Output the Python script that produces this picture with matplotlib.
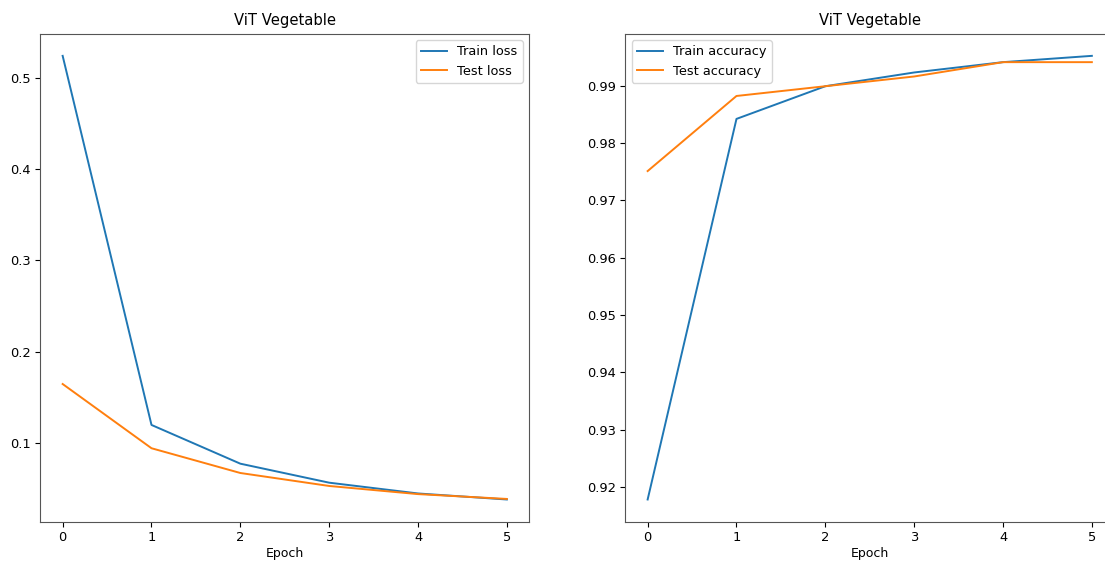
import matplotlib
matplotlib.use("Agg")
import matplotlib.pyplot as plt

epochs = [0, 1, 2, 3, 4, 5]
train_loss = [0.524, 0.120, 0.0776, 0.0568, 0.0450, 0.0384]
test_loss = [0.1648, 0.0945, 0.0674, 0.0532, 0.0443, 0.0390]
train_acc = [0.9178, 0.9842, 0.9899, 0.9923, 0.9941, 0.9952]
test_acc = [0.9751, 0.9882, 0.9899, 0.9916, 0.9941, 0.9941]

fig = plt.figure(figsize=(11.05, 5.63), dpi=100)
ax1 = fig.add_axes([0.0366, 0.0734, 0.4422, 0.8668])
ax2 = fig.add_axes([0.566, 0.0734, 0.4422, 0.8668])

# loss
ax1.plot(epochs, train_loss, label="Train loss", lw=1.4)
ax1.plot(epochs, test_loss, label="Test loss", lw=1.4)
ax1.set_title("ViT Vegetable", fontsize=10.6)
ax1.set_xlabel("Epoch", fontsize=9, labelpad=2)
ax1.legend(loc="upper right", fontsize=9.3)
ax1.tick_params(labelsize=9.4)

# accuracy
ax2.plot(epochs, train_acc, label="Train accuracy", lw=1.4)
ax2.plot(epochs, test_acc, label="Test accuracy", lw=1.4)
ax2.set_title("ViT Vegetable", fontsize=10.6)
ax2.set_xlabel("Epoch", fontsize=9, labelpad=2)
ax2.legend(loc="upper left", fontsize=9.3)
ax2.tick_params(labelsize=9.4)

for ax in (ax1, ax2):
    for s in ax.spines.values():
        s.set_color("#555555")

plt.savefig("out.png", dpi=100)
